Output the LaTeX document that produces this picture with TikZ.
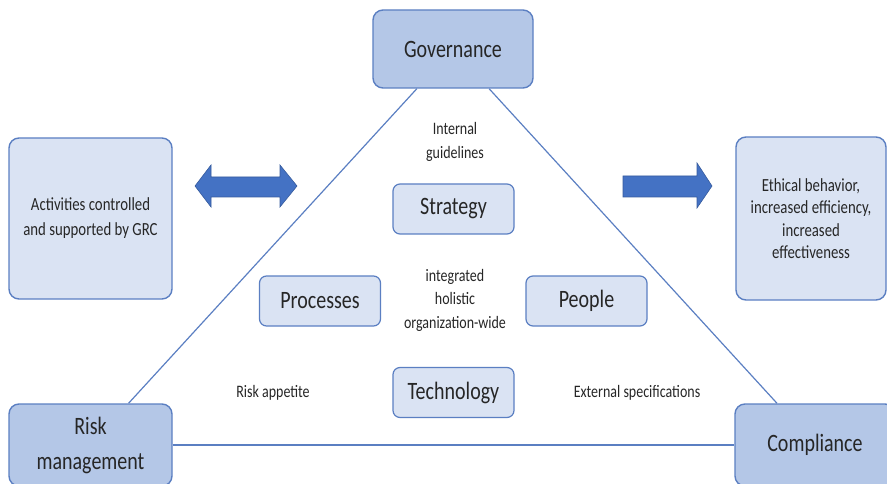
\documentclass[tikz,border=0pt]{standalone}
\usepackage{fontspec}
\setmainfont{Carlito}[FakeStretch=0.8]
\definecolor{govfill}{HTML}{B4C7E7}
\definecolor{palefill}{HTML}{DAE3F3}
\definecolor{edgeblue}{HTML}{5B7FC2}
\definecolor{arrowblue}{HTML}{4472C4}
\definecolor{inkgray}{HTML}{262626}

\tikzset{every picture/.style={line width=0.75pt}}
\tikzset{
  pillar/.style={draw=edgeblue, fill=govfill, line width=1.4pt, rounded corners=10pt,
    inner sep=0pt, align=center, text=inkgray, font={\fontsize{25}{35}\selectfont}},
  sidebox/.style={draw=edgeblue, fill=palefill, line width=1.4pt, rounded corners=10pt,
    inner sep=0pt, align=center, text=inkgray, font={\fontsize{18.5}{25}\selectfont}},
  element/.style={draw=edgeblue, fill=palefill, line width=1.2pt, rounded corners=7pt,
    minimum width=121pt, minimum height=50pt, inner sep=0pt, text=inkgray,
    font={\fontsize{25}{24}\selectfont}},
  note/.style={inner sep=0pt, align=center, text=inkgray, font={\fontsize{17.5}{23.5}\selectfont}},
  edge/.style={draw=edgeblue, line width=1.2pt},
  bigarrow/.style={fill=arrowblue, draw=arrowblue!80!black, line width=0.6pt}
}

\begin{document}
\begin{tikzpicture}[x=1pt,y=1pt,yscale=-1,xscale=1]
\useasboundingbox (0,0) rectangle (887,484);

% corner boxes
\node [pillar, minimum width=160pt, minimum height=78pt] (gov) at (453,49) {Governance};
\node [pillar, minimum width=163pt, minimum height=82pt] (risk) at (90.5,445) {Risk\\management};
\node [pillar, minimum width=160pt, minimum height=82pt] (comp) at (815,445) {Compliance};

% side boxes
\node [sidebox, minimum width=163pt, minimum height=161pt] (activities) at (90.5,218.5) {Activities controlled\\and supported by GRC};
\node [sidebox, minimum width=150pt, minimum height=163pt, font={\fontsize{18.5}{22.5}\selectfont}] (result) at (811,218.5) {Ethical behavior,\\increased efficiency,\\increased\\effectiveness};

% inner elements
\node [element] (strategy) at (453.5,209) {Strategy};
\node [element] (processes) at (320,301) {Processes};
\node [element] (people) at (586.5,301) {People};
\node [element] (technology) at (453.5,392.5) {Technology};

% triangle
\draw [edge] (gov) -- (risk);
\draw [edge] (gov) -- (comp);
\draw [edge] (risk) -- (comp);

% arrows
\draw [bigarrow] (195,186) -- (211,165) -- (211,177) -- (280,177) -- (280,165) -- (297,186)
  -- (280,207) -- (280,197) -- (211,197) -- (211,207) -- cycle;
\draw [bigarrow] (623,176) -- (697,176) -- (697,163) -- (712,186) -- (697,208) -- (697,197)
  -- (623,197) -- cycle;

% Text Node
\node [note] (guidelines) at (455,142) {Internal\\guidelines};
% Text Node
\node [note] (holistic) at (455,300) {integrated\\holistic\\organization-wide};
% Text Node
\node [note] (appetite) at (273,393) {Risk appetite};
% Text Node
\node [note] (external) at (637,393) {External specifications};
\end{tikzpicture}
\end{document}
